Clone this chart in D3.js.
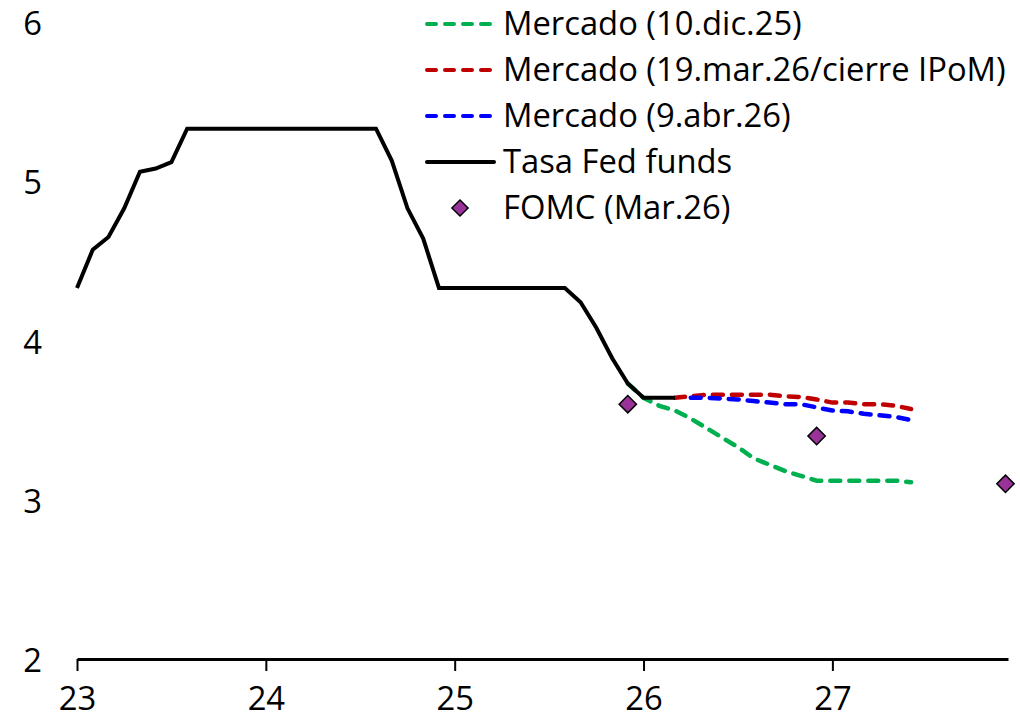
<!DOCTYPE html>
<html><head><meta charset="utf-8">
<script src="https://cdn.jsdelivr.net/npm/d3@7"></script>
<style>body{margin:0;background:#fff}svg{display:block}text{font-family:"Open Sans",Lato,sans-serif;fill:#000}</style>
</head><body><svg id="c" width="1020" height="723"></svg>
<script>
// Time in years (23 = Jan 2023), monthly points
const fedDates = [];
for (let i = 0; i <= 38; i++) fedDates.push(23 + i / 12); // Jan23..Mar26
const fedValues = [4.33,4.57,4.65,4.83,5.06,5.08,5.12,5.33,5.33,5.33,5.33,5.33,
  5.33,5.33,5.33,5.33,5.33,5.33,5.33,5.33,5.13,4.83,4.64,4.33,
  4.33,4.33,4.33,4.33,4.33,4.33,4.33,4.33,4.24,4.08,3.89,3.73,
  3.64,3.64,3.64];
// Market curves
const greenStart = 25 + 11/12; // Dec 2025
const greenValues = [3.73,3.64,3.59,3.56,3.51,3.45,3.39,3.33,3.26,3.22,3.18,3.15,3.12,3.12,3.12,3.12,3.12,3.12,3.11];
const redStart = 26 + 2/12; // Mar 2026
const redValues = [3.64,3.65,3.66,3.66,3.66,3.66,3.66,3.65,3.645,3.63,3.61,3.61,3.60,3.60,3.59,3.57];
const blueStart = 26 + 3/12; // Apr 2026
const blueValues = [3.64,3.64,3.635,3.63,3.62,3.61,3.60,3.60,3.58,3.56,3.555,3.54,3.53,3.52,3.50];
const fomcDates = [25 + 11/12, 26 + 11/12, 27 + 11/12];
const fomcValues = [3.6, 3.4, 3.1];
const xTicks = [23,24,25,26,27];
const yTicks = [2,3,4,5,6];
const legendLabels = ["Mercado (10.dic.25)","Mercado (19.mar.26/cierre IPoM)","Mercado (9.abr.26)","Tasa Fed funds","FOMC (Mar.26)"];

const svg = d3.select("#c");
const x = d3.scaleLinear().domain([23, 27.93]).range([77, 1008]);
const y = d3.scaleLinear().domain([2, 6]).range([659, 22]);

function series(start, vals){ return vals.map((v,i)=>({t:start + i/12, v})); }
const line = d3.line().x(d=>x(d.t)).y(d=>y(d.v));

// fit font size so the longest legend label spans like the reference
const probe = svg.append("text").attr("font-size",30).text(legendLabels[1]);
const w = probe.node().getComputedTextLength();
probe.remove();
const fs = 30 * 503 / w;

// x axis
const xa = svg.append("g").attr("transform","translate(0,659)")
  .call(d3.axisBottom(x).tickValues(xTicks).tickSize(12).tickSizeOuter(0).tickPadding(16).tickFormat(d3.format("d")));
xa.select(".domain").attr("stroke","#000").attr("stroke-width",3);
xa.selectAll(".tick line").attr("stroke","#000").attr("stroke-width",2);
xa.selectAll(".tick text").attr("font-size",fs).attr("font-family","Open Sans");

// y axis labels
const ya = svg.append("g").attr("transform","translate(42,2)")
  .call(d3.axisLeft(y).tickValues(yTicks).tickSize(0).tickPadding(0).tickFormat(d3.format("d")));
ya.select(".domain").remove();
ya.selectAll(".tick text").attr("font-size",fs).attr("font-family","Open Sans");

const dash = "10,9";
function dashed(vals, start, color){
  svg.append("path").datum(series(start, vals)).attr("d",line)
    .attr("fill","none").attr("stroke",color).attr("stroke-width",4.5)
    .attr("stroke-linecap","round").attr("stroke-dasharray",dash);
}
dashed(greenValues, greenStart, "#00B050");
dashed(redValues, redStart, "#C00000");
dashed(blueValues, blueStart, "#0000FF");
svg.append("path").datum(fedDates.map((t,i)=>({t, v:fedValues[i]}))).attr("d",line)
  .attr("fill","none").attr("stroke","#000").attr("stroke-width",4).attr("stroke-linejoin","miter");

const diamond = d3.symbol().type(d3.symbolSquare).size(150);
svg.selectAll(".fomc").data(fomcDates.map((t,i)=>({t,v:fomcValues[i]}))).join("path")
  .attr("d",diamond).attr("transform",d=>`translate(${x(d.t)},${y(d.v)}) rotate(45)`)
  .attr("fill","#993399").attr("stroke","#000").attr("stroke-width",1.5);

// legend
const lg = svg.append("g");
const colors = ["#00B050","#C00000","#0000FF","#000","#993399"];
legendLabels.forEach((lab,i)=>{
  const yy = 24 + i*46;
  if (i < 4) {
    lg.append("line").attr("x1",427).attr("x2",494).attr("y1",yy).attr("y2",yy)
      .attr("stroke",colors[i]).attr("stroke-width",4).attr("stroke-linecap","round")
      .attr("stroke-dasharray", i<3 ? "9,9" : null);
  } else {
    lg.append("path").attr("d",d3.symbol().type(d3.symbolSquare).size(130))
      .attr("transform",`translate(460,${yy}) rotate(45)`)
      .attr("fill","#993399").attr("stroke","#000").attr("stroke-width",1.5);
  }
  lg.append("text").attr("x",503).attr("y",yy).attr("dy","0.35em")
    .attr("font-size",fs).text(lab);
});
</script></body></html>
